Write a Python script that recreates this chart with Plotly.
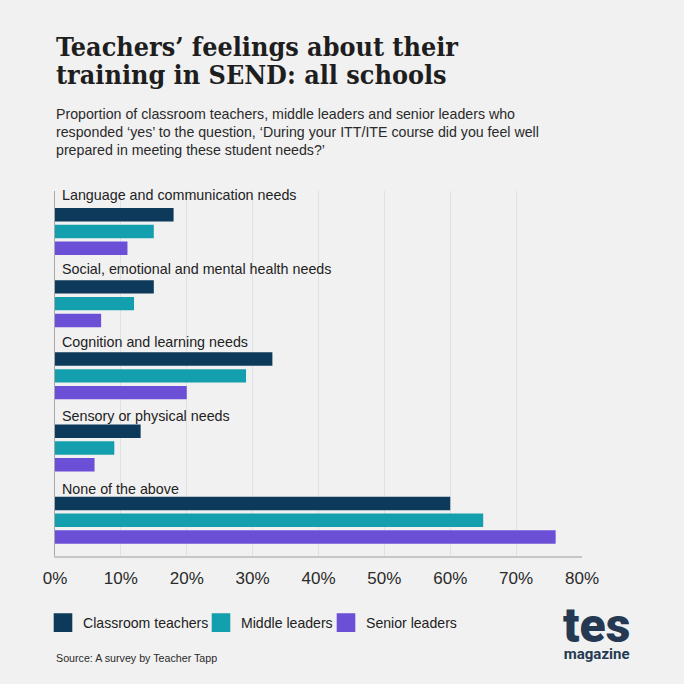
import plotly.graph_objects as go

# ---- data ----
categories = [
    "Language and communication needs",
    "Social, emotional and mental health needs",
    "Cognition and learning needs",
    "Sensory or physical needs",
    "None of the above",
]
series_names = ["Classroom teachers", "Middle leaders", "Senior leaders"]
classroom_teachers = [18, 15, 33, 13, 60]
middle_leaders = [15, 12, 29, 9, 65]
senior_leaders = [11, 7, 20, 6, 76]
series_values = [classroom_teachers, middle_leaders, senior_leaders]
tick_values = [0, 10, 20, 30, 40, 50, 60, 70, 80]
tick_labels = [f"{v}%" for v in tick_values]

title_lines = ["Teachers’ feelings about their", "training in SEND: all schools"]
subtitle_lines = [
    "Proportion of classroom teachers, middle leaders and senior leaders who",
    "responded ‘yes’ to the question, ‘During your ITT/ITE course did you feel well",
    "prepared in meeting these student needs?’",
]
source_text = "Source: A survey by Teacher Tapp"

# ---- styling ----
colors = ["#0d3a5b", "#139fae", "#6b4fd7"]
BG = "#f1f1f1"
W = H = 684
M_L, M_R, M_T, M_B = 55, 102, 191, 128
PLOT_H = H - M_T - M_B
PLOT_W = W - M_L - M_R

GROUP_STEP = 4.3
LABEL_STEP = 4.375
LABEL_START = -1.16
SANS = "Liberation Sans, Arial, sans-serif"


def py(p):
    return (H - M_B - p) / PLOT_H


def px(p):
    return (p - M_L) / PLOT_W


legend_names = ["legend", "legend2", "legend3"]
legend_text_x = [82, 240, 365]

fig = go.Figure()
for s, (name, vals) in enumerate(zip(series_names, series_values)):
    ys = [g * GROUP_STEP + s for g in range(len(categories))]
    fig.add_trace(go.Bar(
        x=vals, y=ys, orientation="h", width=0.8,
        marker=dict(color=colors[s], line=dict(width=0)),
        name=name, showlegend=False, hoverinfo="x",
    ))
    # legend proxy
    fig.add_trace(go.Scatter(
        x=[None], y=[None], mode="markers", name=name,
        marker=dict(symbol="square", size=16, color=colors[s],
                    line=dict(color=colors[s], width=2.6)),
        showlegend=True, legend=legend_names[s],
    ))

annotations = []
for g, cat in enumerate(categories):
    annotations.append(dict(
        x=0, y=LABEL_START + g * LABEL_STEP, xref="x", yref="y",
        text=cat, showarrow=False, xanchor="left", yanchor="middle", xshift=5,
        font=dict(family=SANS, size=14.3, color="#222222"),
    ))

title_font = dict(family="DejaVu Serif Condensed, DejaVu Serif, serif", size=26.7,
                  color="#1e1e1e", weight="bold")
for i, line in enumerate(title_lines):
    annotations.append(dict(
        x=px(54), y=py(46 + 29 * i), xref="paper", yref="paper", text=line,
        showarrow=False, xanchor="left", yanchor="middle", font=title_font,
    ))
for i, line in enumerate(subtitle_lines):
    annotations.append(dict(
        x=px(54), y=py(114 + 18 * i), xref="paper", yref="paper", text=line,
        showarrow=False, xanchor="left", yanchor="middle",
        font=dict(family=SANS, size=14.2, color="#2a2a2a"),
    ))
annotations.append(dict(
    x=px(54), y=py(658), xref="paper", yref="paper", text=source_text,
    showarrow=False, xanchor="left", yanchor="middle",
    font=dict(family=SANS, size=10.7, color="#2a2a2a"),
))
# logo
annotations.append(dict(
    x=px(596), y=py(630), xref="paper", yref="paper",
    text=("<span style='font-size:48px;font-weight:900'>tes</span><br>"
          "<span style='font-size:15px;font-weight:700'>magazine</span>"),
    showarrow=False, xanchor="center", yanchor="middle", align="center",
    font=dict(family="Roboto, DejaVu Sans, sans-serif", size=13, color="#253a52"),
))

legend_common = dict(
    orientation="h", yanchor="middle", y=py(623), xanchor="left",
    bgcolor="rgba(0,0,0,0)", itemclick=False, itemdoubleclick=False,
    font=dict(family=SANS, size=14.1, color="#222222"), itemsizing="trace",
)

fig.update_layout(
    width=W, height=H, autosize=False,
    margin=dict(l=M_L, r=M_R, t=M_T, b=M_B, pad=0),
    paper_bgcolor=BG, plot_bgcolor=BG,
    barmode="overlay",
    annotations=annotations,
    showlegend=True,
    legend=dict(x=px(legend_text_x[0] - 39), **legend_common),
    legend2=dict(x=px(legend_text_x[1] - 39), **legend_common),
    legend3=dict(x=px(legend_text_x[2] - 39), **legend_common),
)
fig.update_xaxes(
    range=[0, 80], tickvals=tick_values, ticktext=tick_labels,
    showgrid=True, gridcolor="#e0e0e0", gridwidth=1,
    showline=True, linecolor="#c6c6c6", linewidth=2,
    zeroline=False, ticks="", ticklabelstandoff=6,
    tickfont=dict(family=SANS, size=17, color="#2a2a2a"),
    fixedrange=True,
)
fig.update_yaxes(
    range=[20.33, -1.41], showticklabels=False, showgrid=False, zeroline=False,
    showline=True, linecolor="#a8a8a8", linewidth=1, ticks="", fixedrange=True,
)

fig.write_html("out.html")
